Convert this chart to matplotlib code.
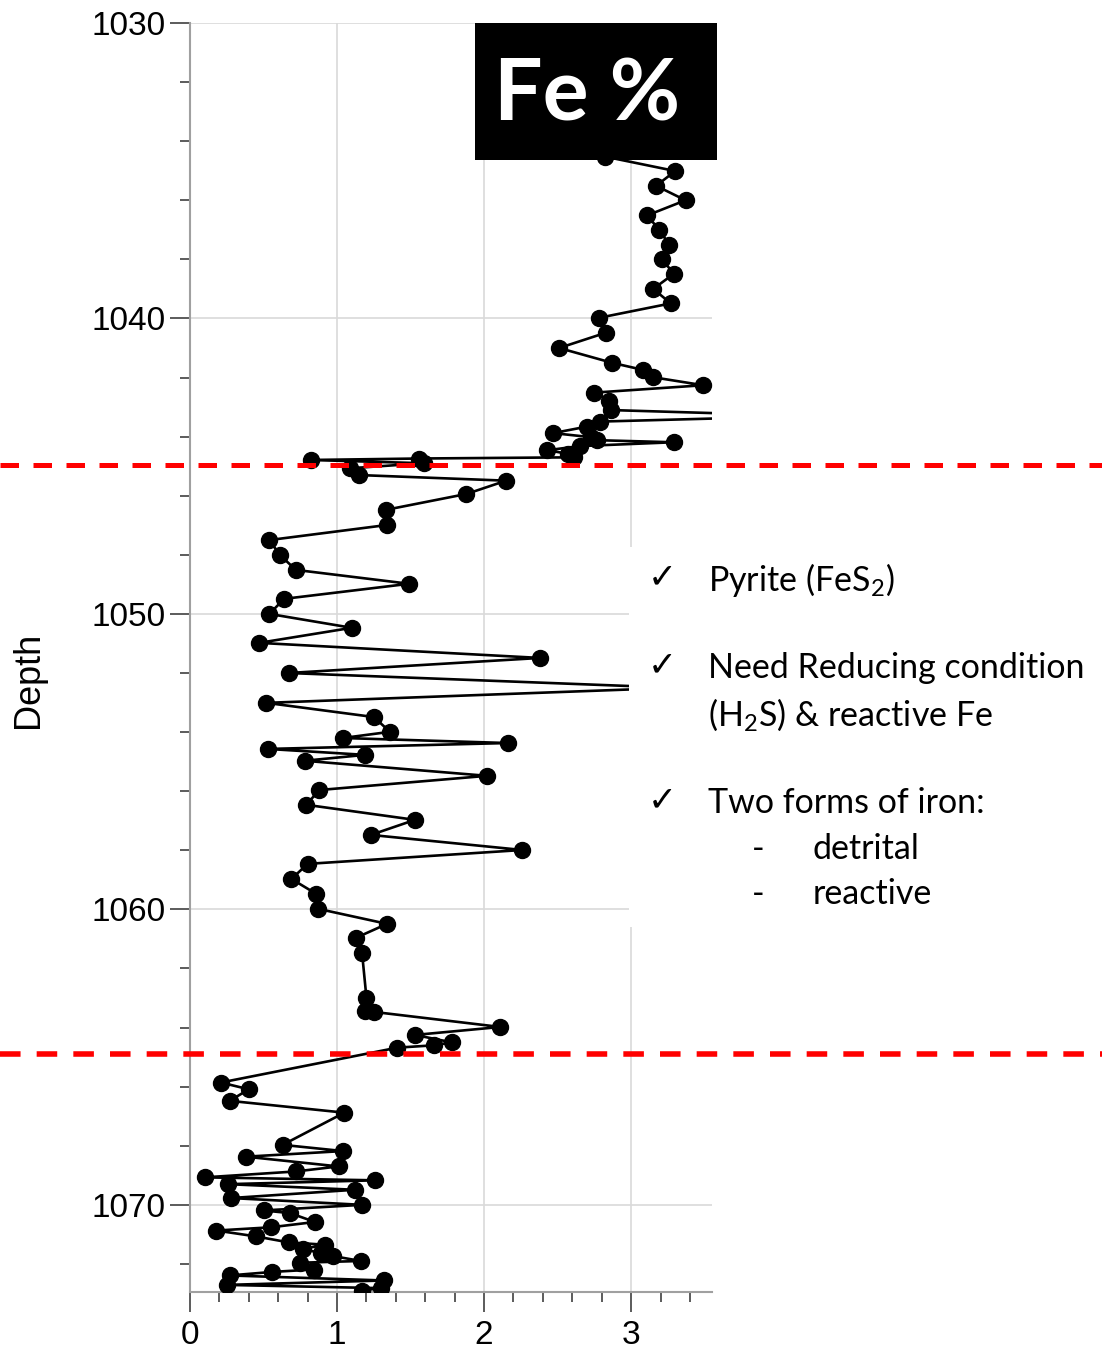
"""Fe % versus depth profile with pyrite notes."""

import matplotlib

matplotlib.use("Agg")
import matplotlib.pyplot as plt
from matplotlib.patches import Rectangle
from matplotlib.ticker import MultipleLocator

depth = [
    1034.52, 1035.01, 1035.51, 1036.00, 1036.51, 1037.00, 1037.50, 1037.99,
    1038.49, 1039.00, 1039.49, 1039.98, 1040.48, 1041.00, 1041.50, 1041.74,
    1041.99, 1042.26, 1042.51, 1042.78, 1043.10, 1043.30, 1043.49, 1043.66,
    1043.88, 1044.02, 1044.12, 1044.19, 1044.32, 1044.46, 1044.58, 1044.70,
    1044.74, 1044.79, 1044.90, 1045.07, 1045.30, 1045.49, 1045.94, 1046.48,
    1046.99, 1047.50, 1048.00, 1048.51, 1048.98, 1049.49, 1050.00, 1050.47,
    1050.98, 1051.49, 1052.00, 1052.50, 1053.01, 1053.49, 1053.99, 1054.20,
    1054.37, 1054.57, 1054.77, 1054.97, 1055.48, 1055.96, 1056.46, 1056.97,
    1057.48, 1057.99, 1058.46, 1058.97, 1059.48, 1059.98, 1060.49, 1060.96,
    1061.47, 1062.99, 1063.43, 1063.47, 1063.98, 1064.25, 1064.50, 1064.60,
    1064.68, 1065.86, 1066.09, 1066.48, 1066.88, 1067.97, 1068.18, 1068.37,
    1068.70, 1068.87, 1069.07, 1069.17, 1069.30, 1069.49, 1069.77, 1070.00,
    1070.19, 1070.28, 1070.58, 1070.76, 1070.87, 1071.07, 1071.27, 1071.35,
    1071.49, 1071.64, 1071.73, 1071.90, 1071.96, 1072.19, 1072.27, 1072.39,
    1072.56, 1072.71, 1072.82, 1072.90,
]
fe = [
    2.82, 3.30, 3.17, 3.37, 3.11, 3.19, 3.26, 3.21,
    3.29, 3.15, 3.27, 2.78, 2.83, 2.51, 2.87, 3.08,
    3.15, 3.49, 2.75, 2.85, 2.86, 4.21, 2.79, 2.70,
    2.47, 2.73, 2.77, 3.29, 2.65, 2.43, 2.57, 2.61,
    1.56, 0.82, 1.59, 1.09, 1.15, 2.15, 1.88, 1.33,
    1.34, 0.54, 0.61, 0.72, 1.49, 0.64, 0.54, 1.10,
    0.47, 2.38, 0.67, 3.30, 0.52, 1.25, 1.36, 1.04,
    2.16, 0.53, 1.19, 0.78, 2.02, 0.88, 0.79, 1.53,
    1.23, 2.26, 0.80, 0.69, 0.86, 0.87, 1.34, 1.13,
    1.17, 1.20, 1.19, 1.25, 2.11, 1.53, 1.78, 1.66,
    1.41, 0.21, 0.40, 0.27, 1.05, 0.63, 1.04, 0.38,
    1.01, 0.72, 0.10, 1.26, 0.26, 1.12, 0.28, 1.17,
    0.50, 0.68, 0.85, 0.55, 0.18, 0.45, 0.67, 0.92,
    0.77, 0.89, 0.97, 1.16, 0.75, 0.84, 0.56, 0.27,
    1.32, 0.25, 1.30, 1.17,
]

# zone boundaries (red dashed)
boundaries = [1044.96, 1064.9]

notes = [
    (577, "Pyrite (FeS$\\mathregular{_2}$)"),
    (665, "Need Reducing condition"),
    (800, "Two forms of iron:"),
]

fig = plt.figure(figsize=(11.02, 13.51), dpi=100)
W, H = 1102, 1351
ax = fig.add_axes([190 / W, 1 - 1292 / H, 522 / W, 1269 / H])

ax.plot(fe, depth, color="black", lw=1.9, marker="o", ms=11.5, zorder=3)

ax.set_xlim(0, 3.55)
ax.set_ylim(1072.95, 1030)
ax.xaxis.set_major_locator(MultipleLocator(1))
ax.xaxis.set_minor_locator(MultipleLocator(0.2))
ax.yaxis.set_major_locator(MultipleLocator(10))
ax.yaxis.set_minor_locator(MultipleLocator(2))
ax.grid(True, which="major", color="#d9d9d9", lw=1.2, zorder=0)

for side in ("top", "right"):
    ax.spines[side].set_visible(False)
for side in ("left", "bottom"):
    ax.spines[side].set_color("#a0a0a0")
    ax.spines[side].set_linewidth(1.5)

tick_font = {"family": "Liberation Sans", "size": 24}
ax.tick_params(which="major", length=14.5, width=1.2, color="#404040", pad=3)
ax.tick_params(which="minor", length=7.2, width=1.2, color="#404040")
ax.tick_params(axis="x", which="major", pad=6)
for lab in ax.get_xticklabels() + ax.get_yticklabels():
    lab.set_fontproperties(tick_font)
    lab.set_fontsize(24)

ax.set_ylabel("Depth", family="Liberation Sans", fontsize=26)
ax.yaxis.set_label_coords(-0.275, 0.482)

# red dashed boundaries run across the full figure width
for y, lw in zip(boundaries, (3.6, 4.0)):
    ax.axhline(y, xmin=-190 / 522, xmax=(W - 190) / 522, color="#ff0000",
               lw=lw, dashes=(3.7, 2.9), clip_on=False, zorder=4)

# title block
fig.patches.append(Rectangle((475 / W, 1 - 160 / H), 242 / W, 137 / H,
                             transform=fig.transFigure, facecolor="black",
                             edgecolor="none", zorder=5))
fig.text(587 / W, 1 - 96 / H, "Fe %", color="white", fontsize=62,
         fontweight="bold", family="Lato", ha="center", va="center", zorder=6)

# notes panel, hides the plot behind it
fig.patches.append(Rectangle((629 / W, 1 - 927 / H), (W - 629) / W, 380 / H,
                             transform=fig.transFigure, facecolor="white",
                             edgecolor="none", zorder=5))
note_kw = {"family": "Lato", "fontsize": 24.5, "va": "center", "zorder": 6}
for ypix, txt in notes:
    fig.text(648 / W, 1 - ypix / H, "\u2713", family="DejaVu Sans",
             fontsize=25, fontweight="bold", va="center", zorder=6)
    fig.text(708 / W, 1 - (ypix + 3) / H, txt, **note_kw)
fig.text(708 / W, 1 - 715 / H, "(H$\\mathregular{_2}$S) & reactive Fe", **note_kw)
for ypix, txt in [(849, "detrital"), (894, "reactive")]:
    fig.text(752 / W, 1 - ypix / H, "-", **note_kw)
    fig.text(813 / W, 1 - ypix / H, txt, **note_kw)

fig.savefig("out.png", dpi=100)
plt.close(fig)
